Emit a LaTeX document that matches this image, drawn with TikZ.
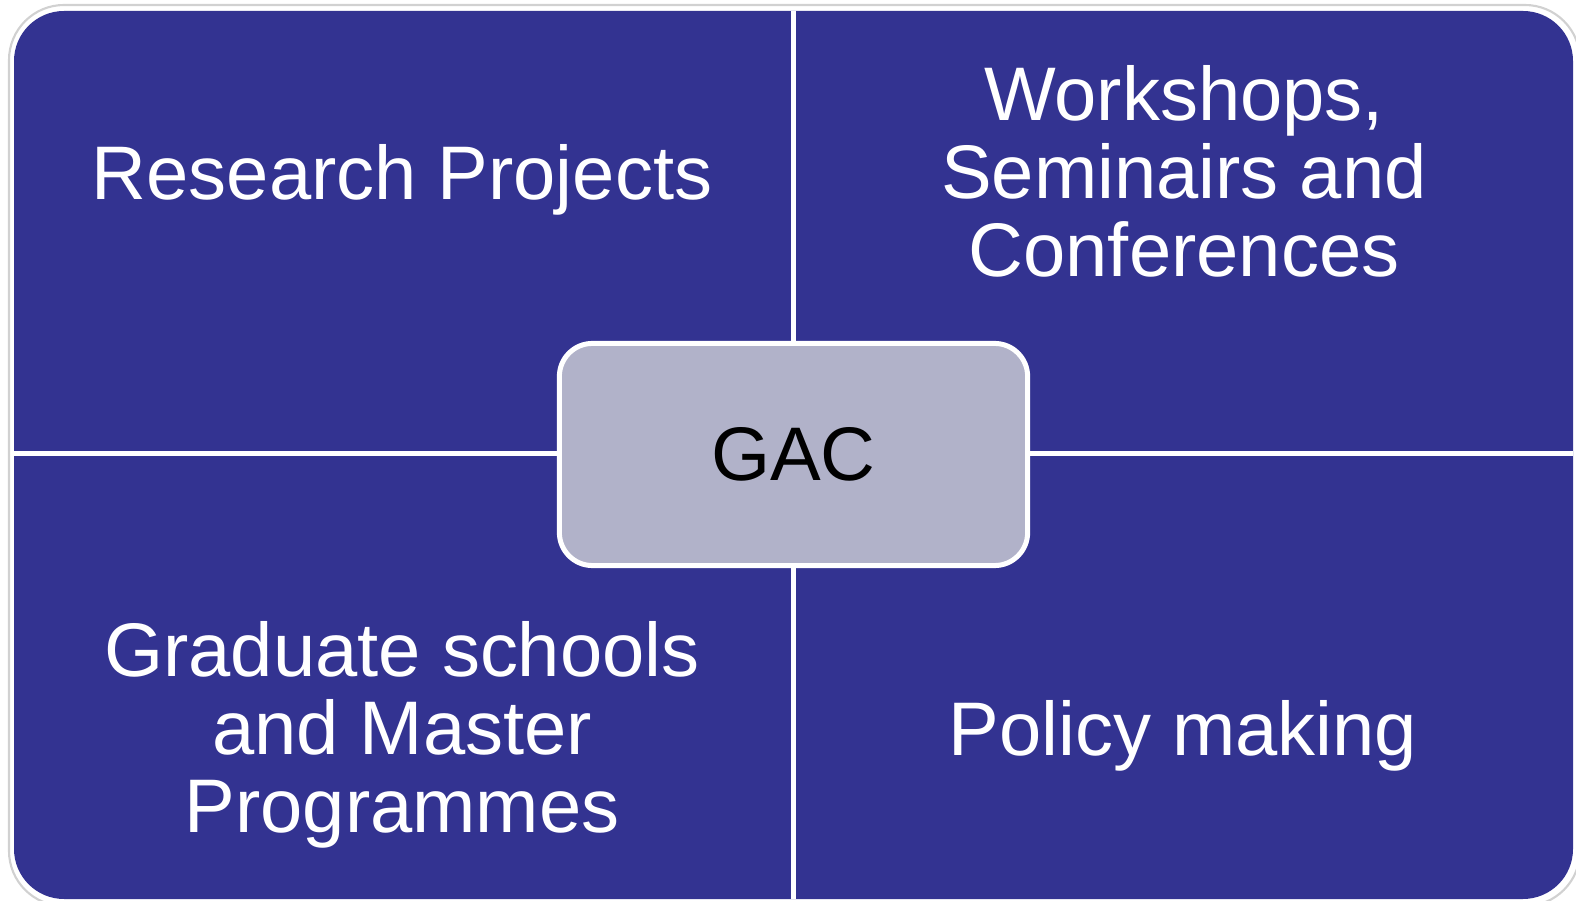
\documentclass[tikz,border=0pt]{standalone}
\usepackage{fontspec}
\setmainfont{Liberation Sans}
\usepackage{tikz}
\usetikzlibrary{positioning}

\definecolor{gacblue}{RGB}{51,51,145}
\definecolor{gacgrey}{RGB}{177,178,201}

\begin{document}
\begin{tikzpicture}[x=0.01cm, y=-0.01cm,
  quadtext/.style={text=white, align=center, anchor=base, inner sep=0pt,
    font=\fontsize{21.6pt}{22.2pt}\selectfont},
  hub/.style={draw=white, line width=0.05cm, fill=gacgrey, rounded corners=0.33cm,
    minimum width=4.68cm, minimum height=2.22cm, inner sep=0pt,
    font=\fontsize{21.6pt}{22.2pt}\selectfont}]
  \useasboundingbox (0,0) rectangle (1576,901);

  % background and separators
  \draw[black!18, line width=0.6pt, rounded corners=0.55cm] (9,5) rectangle (1580,906);
  \fill[gacblue, rounded corners=0.5cm] (14,11) rectangle (1573,899);
  \draw[white, line width=0.05cm] (793.5,11) -- (793.5,899);
  \draw[white, line width=0.05cm] (14,454) -- (1573,454);

  % base anchor sits on the last line
  \node[quadtext] (research)  at (402,200)  {Research Projects};
  \node[quadtext] (workshops) at (1184,277) {Workshops,\\Seminairs and\\Conferences};
  \node[quadtext] (graduate)  at (402,833)  {Graduate schools\\and Master\\Programmes};
  \node[quadtext] (policy)    at (1183,756) {Policy making};

  \node[hub] (gac) at (793.5,454.5) {GAC};
\end{tikzpicture}
\end{document}
